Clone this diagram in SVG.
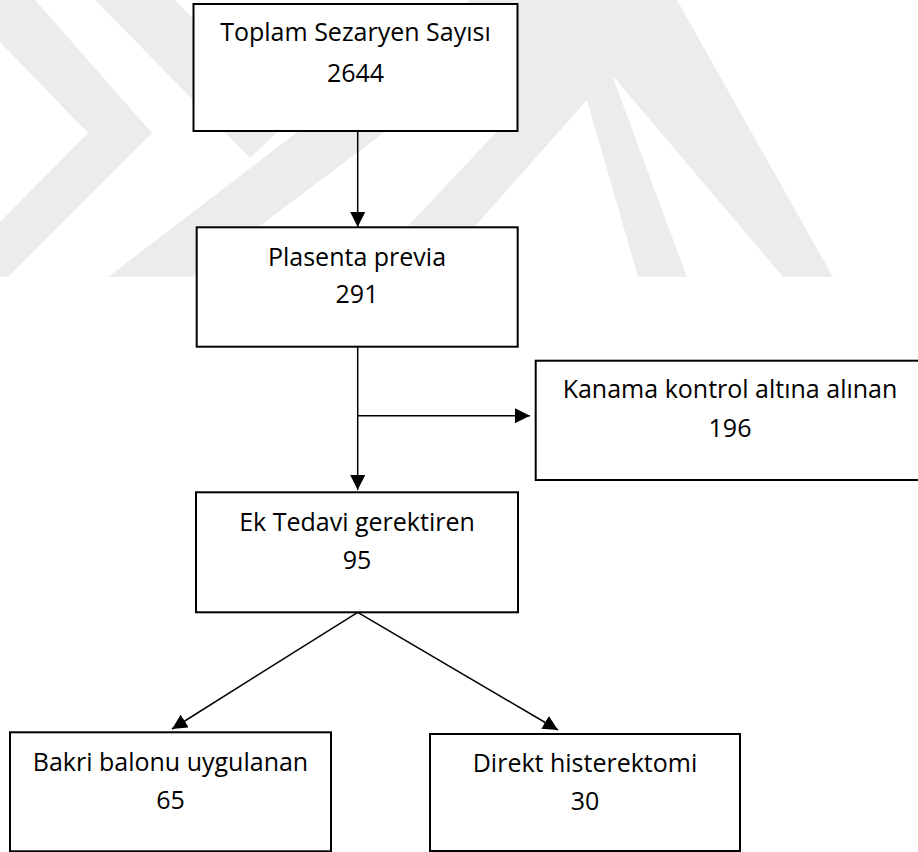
<svg xmlns="http://www.w3.org/2000/svg" width="918" height="852" viewBox="0 0 918 852">
  <style>
    .box { fill: #ffffff; stroke: #000000; stroke-width: 2; }
    .lbl { font-family: "Open Sans", "Liberation Sans", Arial, sans-serif; font-size: 25px; fill: #000000; text-anchor: middle; }
    .edge { stroke: #000000; stroke-width: 1.5; fill: none; marker-end: url(#arrow); }
    .wm { fill: #ececec; stroke: none; }
  </style>
  <defs>
    <marker id="arrow" markerUnits="userSpaceOnUse" markerWidth="16" markerHeight="15" refX="15" refY="7.5" orient="auto">
      <path d="M0,0 L15,7.5 L0,15 z" fill="#000000"/>
    </marker>
  </defs>
  <rect width="918" height="852" fill="#ffffff"/>
  <g id="watermark">
    <polygon class="wm" points="0,0 35,0 152,133 8,277 0,277 0,222 88,133 0,42"/>
    <polygon class="wm" points="95,0 175,0 290,120 250,158"/>
    <polygon class="wm" points="470,0 560,0 192,277 108,277"/>
    <polygon class="wm" points="517,0 677,0 833,277 783,277 612,75 687,277 638,277 587,100 430,277 360,277 517,110"/>
  </g>
  <g id="connectors">
    <line class="edge" x1="357.7" y1="131" x2="357.7" y2="227"/>
    <line class="edge" x1="357.7" y1="346.7" x2="357.7" y2="490"/>
    <line class="edge" x1="357.7" y1="415.7" x2="530" y2="415.7"/>
    <line class="edge" x1="357.7" y1="612.3" x2="172" y2="729"/>
    <line class="edge" x1="357.7" y1="612.3" x2="558" y2="730"/>
  </g>
  <g id="n-toplam">
    <rect class="box" x="193.5" y="4" width="324" height="127"/>
    <text class="lbl" x="355.5" y="41">Toplam Sezaryen Sayısı</text>
    <text class="lbl" x="355.5" y="81.5">2644</text>
  </g>
  <g id="n-plasenta">
    <rect class="box" x="196.7" y="227.3" width="321" height="119.4"/>
    <text class="lbl" x="357" y="265.7">Plasenta previa</text>
    <text class="lbl" x="357" y="303.3">291</text>
  </g>
  <g id="n-kanama">
    <rect class="box" x="535.7" y="360.7" width="390" height="119.3"/>
    <text class="lbl" x="730" y="398.3">Kanama kontrol altına alınan</text>
    <text class="lbl" x="730" y="436.7">196</text>
  </g>
  <g id="n-ektedavi">
    <rect class="box" x="196" y="492.3" width="322" height="120"/>
    <text class="lbl" x="357" y="531">Ek Tedavi gerektiren</text>
    <text class="lbl" x="357" y="569.3">95</text>
  </g>
  <g id="n-bakri">
    <rect class="box" x="10" y="732.3" width="321" height="119"/>
    <text class="lbl" x="170.5" y="771">Bakri balonu uygulanan</text>
    <text class="lbl" x="170.5" y="809">65</text>
  </g>
  <g id="n-direkt">
    <rect class="box" x="430" y="734" width="310" height="117"/>
    <text class="lbl" x="585" y="771.7">Direkt histerektomi</text>
    <text class="lbl" x="585" y="810">30</text>
  </g>
</svg>
